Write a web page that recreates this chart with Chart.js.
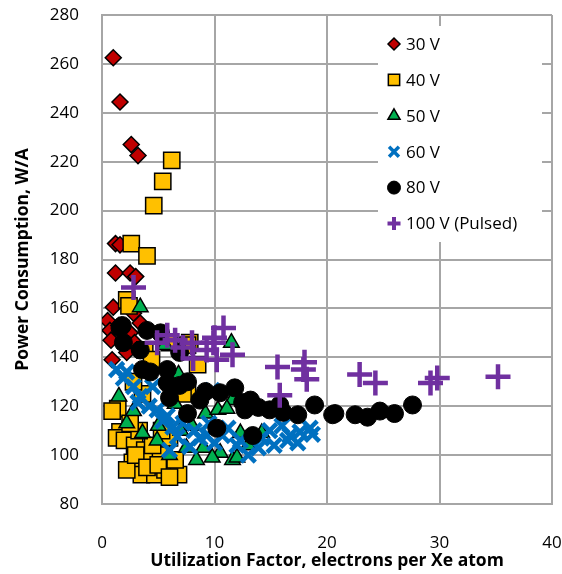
<!DOCTYPE html>
<html>
<head>
<meta charset="utf-8">
<script src="https://cdn.jsdelivr.net/npm/chart.js@4.4.1/dist/chart.umd.min.js"></script>
<style>
  html, body { margin: 0; padding: 0; background: #fff; }
  canvas { display: block; }
</style>
</head>
<body>
<canvas id="myChart" width="562" height="574"></canvas>
<script>
"use strict";

// DATA  [utilization factor, power consumption W/A]
const seriesNames = ["30 V", "40 V", "50 V", "60 V", "80 V", "100 V (Pulsed)"];
const xTicks = [0, 10, 20, 30, 40];
const yTicks = [80, 100, 120, 140, 160, 180, 200, 220, 240, 260, 280];

const v30 = [
  [1.0, 262.5], [1.6, 244.4], [2.6, 227], [3.2, 222.5], [1.2, 186.5], [1.6, 186],
  [1.2, 174.5], [2.5, 174.5], [3.0, 173], [1.0, 160.5], [0.5, 155], [0.7, 151],
  [2.8, 158], [3.4, 154], [0.9, 139], [2.5, 150], [1.8, 147], [2.9, 146],
  [0.8, 147], [1.5, 153], [2.2, 142],
];
const v40 = [
  [6.2, 220.5], [5.4, 212], [4.6, 202], [2.6, 186.5], [4.0, 181.5], [2.2, 163.5],
  [2.4, 161], [7.8, 146], [6.0, 146], [3.8, 143], [4.4, 139], [7.6, 145],
  [8.5, 137], [7.6, 127], [7.2, 125], [1.4, 119], [0.9, 118], [1.6, 109.5],
  [1.3, 107], [2.0, 106], [2.9, 104], [3.8, 102], [2.7, 97], [3.5, 92],
  [4.7, 92], [5.6, 94], [6.8, 92], [4.3, 98], [5.2, 100], [6.5, 98],
  [2.2, 94], [3.0, 100], [4.0, 95], [5.0, 96], [6.0, 91], [4.5, 104],
  [3.3, 110], [2.5, 113], [6.0, 107], [5.3, 110], [3.6, 125], [2.8, 130],
];
const v50 = [
  [3.4, 160.5], [11.5, 146], [5.6, 145], [6.8, 133], [9.2, 117], [2.2, 113],
  [3.6, 109], [4.9, 106], [8.4, 98], [9.0, 103], [10.3, 118.5], [11.6, 122.5],
  [11.1, 119], [12.3, 109], [14.2, 109], [11.6, 98], [12.0, 99], [10.5, 101],
  [7.5, 103], [6.0, 100], [2.8, 118], [1.5, 124], [5.0, 112], [7.0, 110],
  [8.0, 112], [13.0, 104], [6.5, 121], [9.8, 99],
];
const v60 = [
  [1.3, 135], [1.9, 131.5], [2.8, 128], [3.4, 124], [3.2, 121.5], [4.9, 118.5],
  [5.4, 114], [6.3, 111.5], [6.7, 107.5], [7.8, 103.5], [6.0, 102], [8.7, 107],
  [10.7, 108], [12.3, 106], [14.2, 107], [14.9, 110], [16.0, 112], [16.7, 108],
  [17.6, 109.5], [18.7, 108.5], [17.4, 105], [13.9, 103], [9.8, 126.5], [2.2, 134],
  [4.2, 120], [5.8, 116], [7.2, 113], [8.2, 110], [9.3, 108], [10.0, 105],
  [11.2, 111], [13.0, 100], [15.3, 104], [16.5, 106], [18.5, 111], [12.0, 104],
  [4.5, 128], [9.5, 113],
];
const v80 = [
  [1.8, 153], [1.6, 152], [4.0, 151], [1.9, 146], [3.4, 143], [3.6, 135],
  [5.8, 135], [6.9, 142], [5.8, 129.5], [6.0, 123.5], [7.6, 117], [6.9, 128.5],
  [10.2, 111], [13.4, 108], [12.5, 121.5], [11.8, 127.5], [14.9, 118.5], [15.8, 120.5],
  [17.4, 116.5], [18.9, 120.5], [20.5, 116.5], [8.7, 122.5], [10.5, 125.5], [20.7, 117],
  [22.5, 116.5], [23.6, 115.5], [24.7, 118], [26.0, 117], [27.6, 120.5], [5.2, 150],
  [4.3, 134], [7.6, 130], [9.2, 126], [13.2, 122.5], [13.9, 119.5], [12.7, 118.5],
  [16.1, 117.5],
];
const v100 = [
  [2.8, 168.5], [5.8, 149], [4.9, 146], [7.2, 144], [8.1, 139.5], [9.3, 143],
  [10.0, 148], [10.2, 139], [10.8, 152], [11.6, 141], [15.6, 136], [17.9, 135],
  [15.8, 124.5], [9.9, 146], [22.9, 133], [24.3, 129.5], [29.2, 129.5], [29.8, 131.5],
  [35.2, 132], [18.0, 138], [18.2, 131], [6.5, 147], [8.0, 146],
];
const allSeries = [v30, v40, v50, v60, v80, v100];

// MARKER STYLES
const styles = [
  { pointStyle: "rectRot", radius: 8, bg: "#C00000", border: "#000", bw: 1.5, lr: 6, lbw: 1.5 },
  { pointStyle: "rect", radius: 11.5, bg: "#FFC000", border: "#000", bw: 1.5, lr: 8, lbw: 1.5 },
  { pointStyle: "triangle", radius: 9, bg: "#00B050", border: "#000", bw: 1.5, lr: 7, lbw: 1.5 },
  { pointStyle: "crossRot", radius: 10, bg: "#0070C0", border: "#0070C0", bw: 4.5, lr: 7, lbw: 3.5 },
  { pointStyle: "circle", radius: 9, bg: "#000", border: "#000", bw: 1, lr: 6.5, lbw: 1 },
  { pointStyle: "cross", radius: 12.5, bg: "#7030A0", border: "#7030A0", bw: 4.5, lr: 6.5, lbw: 4 },
];

const GRID = "#a6a6a6";
const FONT = "'Open Sans', 'Noto Sans', sans-serif";

// LEGEND INSIDE PLOT
const legendBox = {
  id: "legendBox",
  afterDatasetsDraw(chart) {
    const { ctx } = chart;
    ctx.save();
    ctx.fillStyle = "#fff";
    ctx.fillRect(378, 26, 164, 216);
    ctx.font = "17px " + FONT;
    ctx.textBaseline = "middle";
    ctx.textAlign = "left";
    seriesNames.forEach((name, i) => {
      const s = styles[i];
      const y = 44 + i * 35.9;
      ctx.fillStyle = s.bg;
      ctx.strokeStyle = s.border;
      ctx.lineWidth = s.lbw;
      Chart.helpers.drawPoint(ctx, { pointStyle: s.pointStyle, radius: s.lr, rotation: 0, borderWidth: s.lbw }, 394, y);
      ctx.fillStyle = "#000";
      ctx.fillText(name, 406, y + 1);
    });
    ctx.restore();
  },
};

const datasets = allSeries.map((pts, i) => ({
  label: seriesNames[i],
  data: pts.map(([x, y]) => ({ x, y })),
  pointStyle: styles[i].pointStyle,
  pointRadius: styles[i].radius,
  pointHoverRadius: styles[i].radius,
  backgroundColor: styles[i].bg,
  borderColor: styles[i].border,
  pointBorderWidth: styles[i].bw,
  borderWidth: styles[i].bw,
  order: allSeries.length - i,
  showLine: false,
}));

// fixed axis sizes, no extra label padding around the plot
const noPad = (axis) => {
  axis.paddingTop = 0;
  axis.paddingBottom = 0;
  axis.paddingLeft = 0;
  axis.paddingRight = 0;
};

const ctx = document.getElementById("myChart");
const chart = new Chart(ctx, {
  type: "scatter",
  data: { datasets },
  plugins: [legendBox],
  options: {
    responsive: false,
    animation: false,
    layout: { autoPadding: false, padding: { top: 15, right: 10, left: 0, bottom: 0 } },
    plugins: {
      legend: { display: false },
      tooltip: { enabled: false },
    },
    scales: {
      x: {
        type: "linear",
        min: xTicks[0],
        max: xTicks[xTicks.length - 1],
        afterBuildTicks: (axis) => { axis.ticks = xTicks.map((v) => ({ value: v })); },
        afterFit: (axis) => { axis.height = 70; noPad(axis); },
        grid: { color: GRID, lineWidth: 2, drawTicks: false },
        border: { color: GRID, width: 2 },
        ticks: { padding: 29, color: "#000", font: { family: FONT, size: 17 } },
        title: {
          display: true,
          text: "Utilization Factor, electrons per Xe atom",
          color: "#000",
          font: { family: FONT, size: 17.5, weight: "bold" },
          padding: { top: 0, bottom: 2 },
        },
      },
      y: {
        type: "linear",
        min: yTicks[0],
        max: yTicks[yTicks.length - 1],
        afterBuildTicks: (axis) => { axis.ticks = yTicks.map((v) => ({ value: v })); },
        afterFit: (axis) => { axis.width = 102; noPad(axis); },
        grid: { color: GRID, lineWidth: 2, drawTicks: false },
        border: { color: GRID, width: 2 },
        ticks: { padding: 23, color: "#000", font: { family: FONT, size: 17 } },
        title: {
          display: true,
          text: "Power Consumption, W/A",
          color: "#000",
          font: { family: FONT, size: 17.5, weight: "bold" },
          padding: { top: 13, bottom: 0 },
        },
      },
    },
  },
});
</script>
</body>
</html>
